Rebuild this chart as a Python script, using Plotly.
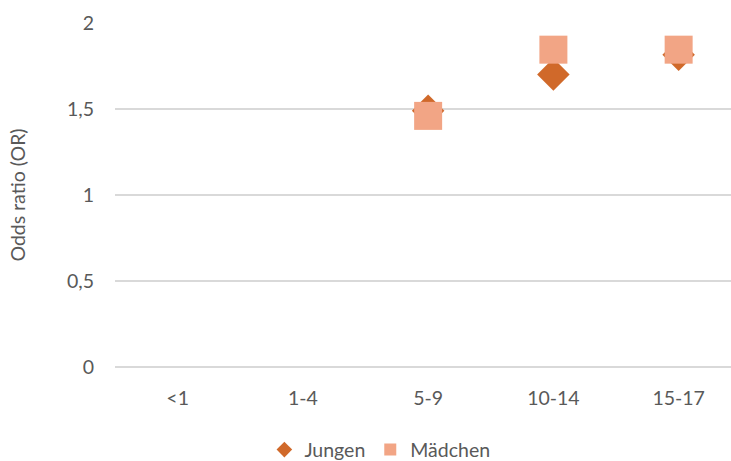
import plotly.graph_objects as go

categories = ["<1", "1-4", "5-9", "10-14", "15-17"]
jungen = [None, None, 1.49, 1.70, 1.815]
maedchen = [None, None, 1.46, 1.845, 1.845]
y_ticks = [0, 0.5, 1, 1.5, 2]
y_tick_labels = ["0", "0,5", "1", "1,5", "2"]

FONT = "Lato, Open Sans, sans-serif"
GRAY = "#595959"
FS = 19.5

fig = go.Figure()
fig.add_trace(go.Scatter(
    x=categories, y=jungen, mode="markers", name="Jungen",
    marker=dict(symbol="diamond", size=25, color="#D0692A",
                line=dict(width=0)),
))
fig.add_trace(go.Scatter(
    x=categories, y=maedchen, mode="markers", name="Mädchen",
    marker=dict(symbol="square", size=28, color="#F2A585",
                line=dict(width=0)),
))

fig.update_layout(
    width=731, height=461,
    margin=dict(l=115, r=0, t=23, b=94),
    paper_bgcolor="white", plot_bgcolor="white",
    font=dict(family=FONT, size=FS, color=GRAY),
    showlegend=True,
    legend=dict(orientation="h", x=0.43, xanchor="center",
                yref="container", y=0.024, yanchor="middle",
                font=dict(size=FS, color=GRAY),
                itemsizing="constant", itemwidth=30),
    xaxis=dict(
        type="category", categoryorder="array", categoryarray=categories,
        range=[-0.5, 4.418], showgrid=False, zeroline=False, showline=False,
        ticks="", ticklabelstandoff=17, tickfont=dict(size=FS, color=GRAY),
        automargin=False,
    ),
    yaxis=dict(
        range=[0, 2], tickvals=y_ticks, ticktext=y_tick_labels,
        showgrid=True, gridcolor="#D9D9D9", gridwidth=1.5,
        zeroline=True, zerolinecolor="#D9D9D9", zerolinewidth=1.5,
        showline=False, ticks="", ticklabelstandoff=20,
        tickfont=dict(size=FS, color=GRAY),
        title=dict(text="Odds ratio (OR)", font=dict(size=FS, color=GRAY),
                   standoff=36),
        automargin=False,
    ),
)

fig.write_html(
    "out.html",
    config={"displayModeBar": False},
    post_script="document.body.style.margin='0';"
                "document.body.style.overflow='hidden';",
)
